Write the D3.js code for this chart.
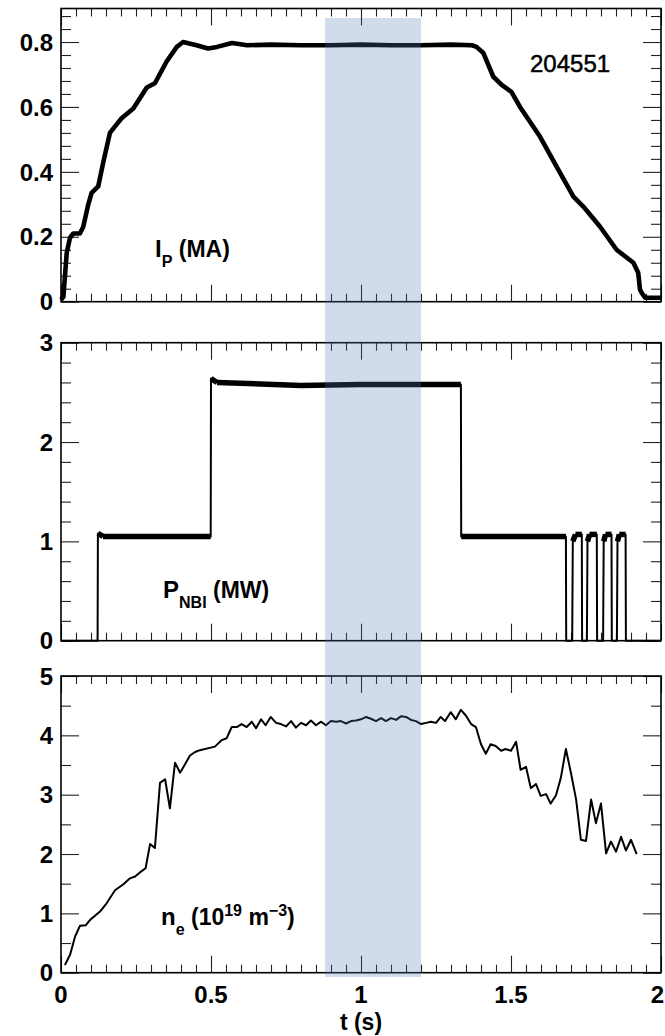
<!DOCTYPE html>
<html>
<head>
<meta charset="utf-8">
<script src="https://cdn.jsdelivr.net/npm/d3@7"></script>
<style>
	body{margin:0;background:#fff;}
	svg{display:block;font-family:"Liberation Sans",Arial,Helvetica,sans-serif;}
</style>
</head>
<body>
<svg id="chart" width="665" height="1036"></svg>
<script>
// shot 204551 : plasma current, NBI power, line density

var shotLabel = '204551';
var bandRange = [0.88, 1.2];
var timeTicks = [0, 0.5, 1, 1.5, 2];

var ipTime = [0, 0.008, 0.019, 0.03, 0.041, 0.063, 0.074, 0.091, 0.102, 0.124, 0.141, 0.163, 0.18, 0.202, 0.241, 0.286, 0.313, 0.352, 0.386, 0.407, 0.452, 0.49, 0.52, 0.57, 0.62, 0.7, 0.8, 0.9, 1.0, 1.1, 1.2, 1.3, 1.37, 1.385, 1.408, 1.441, 1.469, 1.502, 1.53, 1.597, 1.652, 1.708, 1.741, 1.797, 1.852, 1.908, 1.924, 1.93, 1.936, 1.947, 2.0];
var ipValues = [0.006, 0.015, 0.15, 0.197, 0.21, 0.21, 0.23, 0.30, 0.335, 0.355, 0.43, 0.52, 0.54, 0.565, 0.595, 0.66, 0.673, 0.74, 0.785, 0.80, 0.79, 0.78, 0.785, 0.797, 0.79, 0.792, 0.79, 0.79, 0.792, 0.79, 0.79, 0.792, 0.79, 0.785, 0.766, 0.693, 0.668, 0.646, 0.60, 0.508, 0.416, 0.324, 0.293, 0.231, 0.16, 0.12, 0.089, 0.037, 0.027, 0.012, 0.012];

var nbiTime = [0, 0.122, 0.123, 0.14, 0.499, 0.5, 0.52, 0.8, 1.0, 1.333, 1.334, 1.683, 1.684, 1.704, 1.706, 1.715, 1.736, 1.737, 1.753, 1.755, 1.762, 1.786, 1.787, 1.807, 1.809, 1.815, 1.835, 1.836, 1.853, 1.855, 1.861, 1.882, 1.883, 2.0];
var nbiValues = [0, 0, 1.08, 1.05, 1.05, 2.64, 2.6, 2.57, 2.58, 2.58, 1.05, 1.05, 0, 0, 1.0, 1.07, 1.07, 0, 0, 1.0, 1.07, 1.07, 0, 0, 1.0, 1.07, 1.07, 0, 0, 1.0, 1.07, 1.07, 0, 0];

var neTime = [0.013, 0.03, 0.047, 0.063, 0.083, 0.097, 0.13, 0.152, 0.18, 0.208, 0.23, 0.247, 0.263, 0.282, 0.297, 0.313, 0.33, 0.347, 0.363, 0.38, 0.397, 0.413, 0.43, 0.447, 0.463, 0.513, 0.536, 0.552, 0.569, 0.586, 0.602, 0.619, 0.636, 0.65, 0.667, 0.682, 0.699, 0.717, 0.733, 0.75, 0.767, 0.783, 0.8, 0.817, 0.833, 0.85, 0.867, 0.883, 0.9, 0.917, 0.933, 0.95, 0.967, 0.983, 1.0, 1.017, 1.033, 1.05, 1.067, 1.083, 1.1, 1.117, 1.133, 1.15, 1.167, 1.183, 1.2, 1.217, 1.233, 1.25, 1.266, 1.28, 1.299, 1.316, 1.333, 1.35, 1.367, 1.383, 1.4, 1.416, 1.432, 1.449, 1.467, 1.482, 1.5, 1.517, 1.532, 1.55, 1.566, 1.583, 1.599, 1.617, 1.632, 1.65, 1.666, 1.683, 1.7, 1.717, 1.733, 1.75, 1.767, 1.783, 1.8, 1.817, 1.833, 1.85, 1.867, 1.883, 1.9, 1.919];
var neValues = [0.13, 0.3, 0.61, 0.79, 0.8, 0.89, 1.03, 1.17, 1.39, 1.49, 1.59, 1.62, 1.69, 1.76, 2.17, 2.1, 3.2, 3.26, 2.77, 3.54, 3.37, 3.51, 3.66, 3.72, 3.75, 3.81, 3.92, 3.95, 4.14, 4.14, 4.19, 4.14, 4.23, 4.12, 4.27, 4.17, 4.31, 4.21, 4.19, 4.15, 4.24, 4.13, 4.21, 4.17, 4.25, 4.17, 4.23, 4.17, 4.24, 4.23, 4.24, 4.2, 4.24, 4.25, 4.27, 4.31, 4.28, 4.24, 4.29, 4.24, 4.29, 4.26, 4.32, 4.31, 4.26, 4.24, 4.19, 4.21, 4.23, 4.21, 4.31, 4.24, 4.39, 4.27, 4.43, 4.33, 4.19, 4.14, 3.85, 3.69, 3.85, 3.82, 3.74, 3.77, 3.74, 3.89, 3.42, 3.47, 3.11, 3.18, 2.98, 3.01, 2.85, 2.99, 3.28, 3.77, 3.36, 2.92, 2.24, 2.22, 2.92, 2.52, 2.85, 2.01, 2.21, 2.04, 2.29, 2.06, 2.24, 2.0];

var svg = d3.select('#chart'),
	x = d3.scaleLinear().domain([0, 2]).range([61, 661]),
	xMinor = d3.range(0, 41).map(function(i){ return +(i*0.05).toFixed(2); })
	;

var panels = [
	{top:8.5, bottom:301.7, max:0.9, major:[0,0.2,0.4,0.6,0.8], step:0.04, n:22,
		fmt:function(d){ return d===0 ? '0' : d.toFixed(1); },
		time:ipTime, values:ipValues},
	{top:342.7, bottom:640.7, max:3, major:[0,1,2,3], step:0.2, n:15,
		fmt:String, time:nbiTime, values:nbiValues},
	{top:676, bottom:972.7, max:5, major:[0,1,2,3,4,5], step:0.5, n:10,
		fmt:String, time:neTime, values:neValues}
];

function tickGroup(axis, tx, ty, vals, size){
	var g = svg.append('g')
		.attr('transform', 'translate(' + tx + ',' + ty + ')')
		.call(axis.tickValues(vals).tickSize(size).tickFormat(''));
	g.select('.domain').remove();
	g.selectAll('line').attr('stroke', '#222').attr('stroke-width', 1.1);
}

panels.forEach(function(p){
	var y = d3.scaleLinear().domain([0, p.max]).range([p.bottom, p.top]);
	// top panel frame sits a touch above 0.9
	if (p.max === 0.9) y.range([p.bottom, p.bottom - 0.9*324.6]);
	p.y = y;
	var minor = d3.range(0, p.n + 1).map(function(i){ return +(i*p.step).toFixed(3); })
		.filter(function(v){ return p.major.indexOf(v) < 0; });
	var xMaj = timeTicks,
		xMin = xMinor.filter(function(v){ return xMaj.indexOf(v) < 0; });

	tickGroup(d3.axisLeft(y), 61, 0, minor, -10);
	tickGroup(d3.axisLeft(y), 61, 0, p.major, -18);
	tickGroup(d3.axisRight(y), 661, 0, minor, -10);
	tickGroup(d3.axisRight(y), 661, 0, p.major, -18);
	tickGroup(d3.axisTop(x), 0, p.top, xMin, -8);
	tickGroup(d3.axisTop(x), 0, p.top, xMaj, -17);
	tickGroup(d3.axisBottom(x), 0, p.bottom, xMin, -8);
	tickGroup(d3.axisBottom(x), 0, p.bottom, xMaj, -17);

	svg.append('rect')
		.attr('x', 61).attr('y', p.top)
		.attr('width', 600).attr('height', p.bottom - p.top)
		.attr('fill', 'none').attr('stroke', '#000').attr('stroke-width', 1.6);

	svg.append('g').selectAll('text')
		.data(p.major).enter().append('text')
		.attr('x', 53).attr('y', function(d){ return y(d); })
		.attr('dy', '0.36em')
		.attr('text-anchor', 'end')
		.attr('font-size', 24).attr('font-weight', 'bold')
		.text(p.fmt);
});

// traces
var pts = function(p){ return p.time.map(function(t, i){ return [t, p.values[i]]; }); };

function drawLine(p, width){
	var line = d3.line().x(function(d){ return x(d[0]); }).y(function(d){ return p.y(d[1]); });
	svg.append('path').datum(pts(p))
		.attr('d', line).attr('fill', 'none')
		.attr('stroke', '#000').attr('stroke-width', width)
		.attr('stroke-linejoin', 'round');
	return line;
}

drawLine(panels[0], 4.6);

// NBI: thin edges, noisy (thick) flat parts
var nbiLine = drawLine(panels[1], 2);
var nbiPts = pts(panels[1]);
var flat = d3.pairs(nbiPts).filter(function(s){
	return Math.abs(s[1][1] - s[0][1]) < 0.1 && s[0][1] > 0.5;
});
svg.append('g').selectAll('path').data(flat).enter().append('path')
	.attr('d', nbiLine).attr('fill', 'none')
	.attr('stroke', '#000').attr('stroke-width', 5.5);

drawLine(panels[2], 2);

// x tick labels and title; last one pulled in so it stays on the page
svg.append('g').selectAll('text')
	.data(timeTicks).enter().append('text')
	.attr('x', function(d){ return d === 2 ? 664 : x(d); }).attr('y', 1003)
	.attr('text-anchor', function(d){ return d === 2 ? 'end' : 'middle'; })
	.attr('font-size', 24).attr('font-weight', 'bold')
	.text(String);

svg.append('text')
	.attr('x', x(1)).attr('y', 1030)
	.attr('text-anchor', 'middle')
	.attr('font-size', 23).attr('font-weight', 'bold')
	.text('t (s)');

svg.append('text')
	.attr('x', 530).attr('y', 72)
	.attr('font-size', 24)
	.attr('stroke', '#000').attr('stroke-width', 0.5)
	.text(shotLabel);

// panel labels
function label(xp, yp, parts){
	var t = svg.append('text').attr('x', xp).attr('y', yp).attr('font-weight', 'bold');
	parts.forEach(function(s){
		t.append('tspan').attr('font-size', s[1]).attr('dy', s[2] || 0).text(s[0]);
	});
}
label(155, 257, [['I', 24], ['P', 16, 10], [' (MA)', 23, -10]]);
label(163, 598, [['P', 24], ['NBI', 16, 10], [' (MW)', 23, -10]]);
label(161, 925, [['n', 24], ['e', 16, 10], [' (10', 23, -10], ['19', 16, -9], [' m', 23, 9], ['\u22123', 16, -9], [')', 23, 9]]);

// time window of interest, laid over everything
svg.append('rect')
	.attr('x', x(bandRange[0])).attr('y', 18)
	.attr('width', x(bandRange[1]) - x(bandRange[0]))
	.attr('height', 959)
	.attr('fill', 'rgb(80,120,180)').attr('fill-opacity', 0.265);
</script>
</body>
</html>
